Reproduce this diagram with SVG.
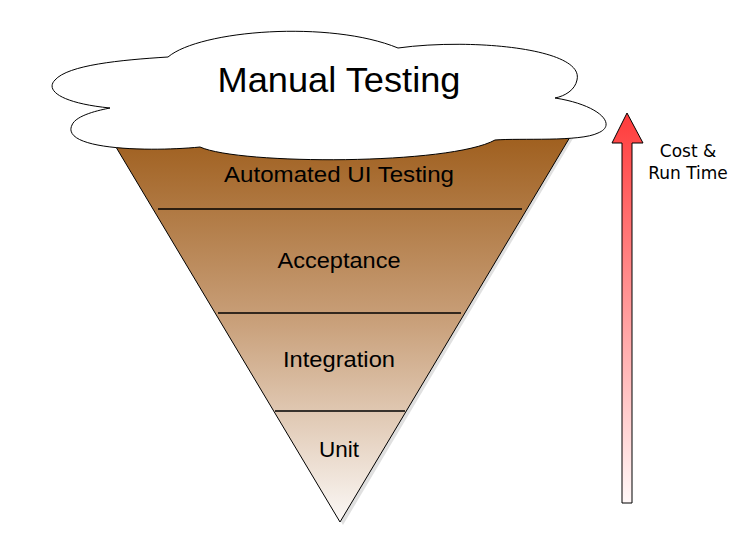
<svg xmlns="http://www.w3.org/2000/svg" width="742" height="536" viewBox="0 0 742 536">
<defs>
<linearGradient id="tri" x1="0" y1="0" x2="0" y2="1"><stop offset="0" stop-color="#9c5a17"/><stop offset="0.5" stop-color="#c9a07a"/><stop offset="1" stop-color="#fbf8f6"/></linearGradient>
<linearGradient id="arr" x1="0" y1="0" x2="0" y2="1"><stop offset="0" stop-color="#ff3b3b"/><stop offset="1" stop-color="#fff8f8"/></linearGradient>
<style>.lbl{font-family:"Liberation Sans",Arial,sans-serif;font-size:22px;text-anchor:middle;fill:#000}.ln{stroke:#000;stroke-width:1.5}</style>
</defs>
<g id="funnel">
<polygon points="105,125 581,125 343,525" fill="#cccccc" opacity="0.6"/>
<polygon points="101,122 579,122 340,522" fill="url(#tri)" stroke="#000" stroke-width="1"/>
<line class="ln" x1="158" y1="209" x2="522" y2="209"/>
<line class="ln" x1="218" y1="313" x2="461" y2="313"/>
<line class="ln" x1="275" y1="411" x2="405" y2="411"/>
<text class="lbl" x="339" y="182" textLength="230" lengthAdjust="spacingAndGlyphs">Automated UI Testing</text>
<text class="lbl" x="339" y="268" textLength="123" lengthAdjust="spacingAndGlyphs">Acceptance</text>
<text class="lbl" x="339" y="367" textLength="112" lengthAdjust="spacingAndGlyphs">Integration</text>
<text class="lbl" x="339" y="457" textLength="40" lengthAdjust="spacingAndGlyphs">Unit</text>
</g>
<g id="cloud">
<path d="M168,57 C200,30 330,20 398,48 C470,38 585,48 577,80 C575,90 565,96 555,98 C600,105 618,125 598,133 C580,142 520,138 495,140 C450,165 240,165 200,147 C150,152 60,150 72,125 C76,115 100,110 110,108 C60,103 45,90 55,80 C68,65 120,60 168,57 Z" fill="#fff" stroke="#000" stroke-width="1"/>
<text x="339" y="92" font-family="Liberation Sans,Arial,sans-serif" font-size="35" text-anchor="middle" textLength="243" lengthAdjust="spacingAndGlyphs">Manual Testing</text>
</g>
<g id="arrow">
<path d="M622,503 L622,143 L612,143 L627,113 L643,143 L632,143 L632,503 Z" fill="url(#arr)" stroke="#000" stroke-width="1"/>
<text font-family="DejaVu Sans,Verdana,sans-serif" font-size="17" text-anchor="middle"><tspan x="688" y="157">Cost &amp;</tspan><tspan x="688" y="179">Run Time</tspan></text>
</g>
</svg>
